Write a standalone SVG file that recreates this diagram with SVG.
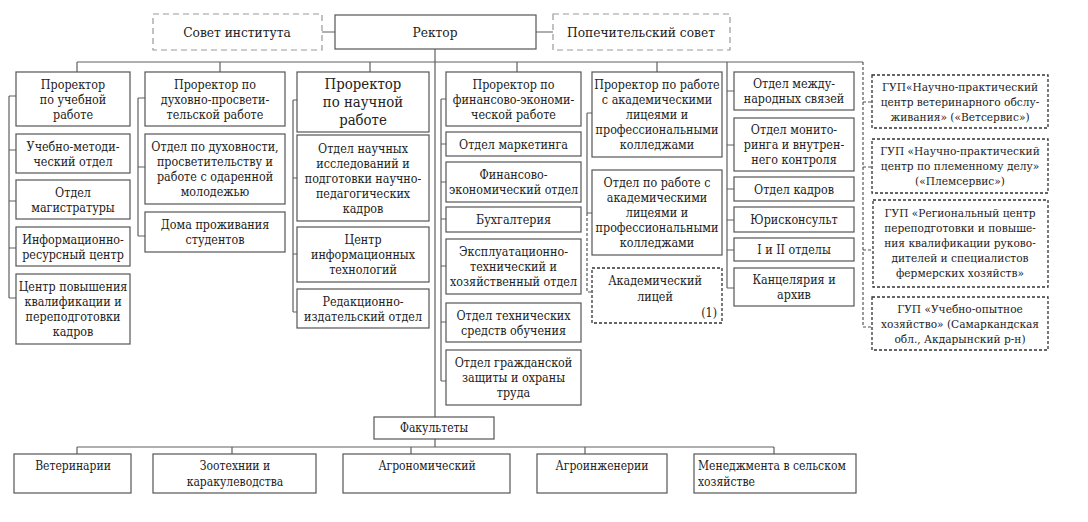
<svg xmlns="http://www.w3.org/2000/svg" width="1088" height="522" viewBox="0 0 1088 522">
<style>
.b{fill:#fff;stroke:#555;stroke-width:1.2}
.dl{fill:#fff;stroke:#999;stroke-width:1.2;stroke-dasharray:6 4}
.dd{fill:#fff;stroke:#333;stroke-width:1.3;stroke-dasharray:3 2}
.c{fill:none;stroke:#606060;stroke-width:1.2}
.cd{fill:none;stroke:#555;stroke-width:1.2;stroke-dasharray:3 2}
text{font-family:'DejaVu Serif Condensed','DejaVu Serif',serif;font-stretch:condensed;fill:#222;font-size:12.4px;text-anchor:middle}
.h{font-size:13.6px}
.big{font-size:14.8px}
.s{font-size:11.8px}
.f{font-size:12px}
</style>
<rect width="1088" height="522" fill="#fff"/>
<g id="connectors">
<path class="c" d="M322 32H335M536 32H553M435 49V417M435 439V447"/>
<path class="c" d="M77 62H863M77 62V72M220 62V72M370 62V72M517 62V72M657 62V72M727 62V288"/>
<path class="c" d="M9 96V298M9 96H16M9 150H16M9 201H16M9 248H16M9 298H16"/>
<path class="c" d="M138 98V236M138 98H145M138 167H145M138 236H145"/>
<path class="c" d="M293 100V312M293 100H297M293 178H297M293 254H297M293 312H297"/>
<path class="c" d="M441 99V381M441 99H446M441 144H446M441 182H446M441 219H446M441 266H446M441 322H446M441 381H446"/>
<path class="c" d="M587 113V213M587 113H592M587 213H592"/>
<path class="cd" d="M587 213V292H592"/>
<path class="c" d="M727 91H734M727 145H734M727 189H734M727 220H734M727 250H734M727 288H734"/>
<path class="cd" d="M863 62V327M863 102H872M863 167H872M863 250H872M863 327H872"/>
<path class="c" d="M77 447H774M77 447V454M232 447V454M411 447V454M585 447V454M774 447V454"/>
</g>
<g id="sovet"><rect class="dl" x="153" y="14" width="169" height="36"/><text class="h" x="237" y="37">Совет института</text></g>
<g id="rektor"><rect class="b" x="335" y="15" width="201" height="34"/><text class="h" x="435" y="37">Ректор</text></g>
<g id="popech"><rect class="dl" x="553" y="14" width="177" height="36"/><text class="h" x="641" y="37">Попечительский совет</text></g>

<g id="c1a"><rect class="b" x="16" y="72" width="114" height="54"/><text x="73" y="88.5">Проректор</text><text x="73" y="103.5">по учебной</text><text x="73" y="118.5">работе</text></g>
<g id="c1b"><rect class="b" x="16" y="134" width="114" height="39"/><text x="73" y="150.5">Учебно-методи-</text><text x="73" y="165.5">ческий отдел</text></g>
<g id="c1c"><rect class="b" x="16" y="180" width="114" height="39"/><text x="73" y="196.5">Отдел</text><text x="73" y="211.5">магистратуры</text></g>
<g id="c1d"><rect class="b" x="16" y="227" width="114" height="39"/><text x="73" y="243.5">Информационно-</text><text x="73" y="258.5">ресурсный центр</text></g>
<g id="c1e"><rect class="b" x="16" y="274" width="114" height="70"/><text x="73" y="290.5">Центр повышения</text><text x="73" y="305.5">квалификации и</text><text x="73" y="320.5">переподготовки</text><text x="73" y="335.5">кадров</text></g>

<g id="c2a"><rect class="b" x="145" y="72" width="140" height="54"/><text x="215" y="88.5">Проректор по</text><text x="215" y="103.5">духовно-просвети-</text><text x="215" y="118.5">тельской работе</text></g>
<g id="c2b"><rect class="b" x="145" y="134" width="140" height="70"/><text x="215" y="150.5">Отдел по духовности,</text><text x="215" y="165.5">просветительству и</text><text x="215" y="180.5">работе с одаренной</text><text x="215" y="195.5">молодежью</text></g>
<g id="c2c"><rect class="b" x="145" y="212" width="140" height="40"/><text x="215" y="229">Дома проживания</text><text x="215" y="244">студентов</text></g>

<g id="c3a"><rect class="b" x="297" y="72" width="132" height="60"/><text class="big" x="363" y="89">Проректор</text><text class="big" x="363" y="107">по научной</text><text class="big" x="363" y="125">работе</text></g>
<g id="c3b"><rect class="b" x="297" y="135" width="132" height="86"/><text x="363" y="152.5">Отдел научных</text><text x="363" y="167.5">исследований и</text><text x="363" y="182.5">подготовки научно-</text><text x="363" y="197.5">педагогических</text><text x="363" y="212.5">кадров</text></g>
<g id="c3c"><rect class="b" x="297" y="227" width="132" height="55"/><text x="363" y="244">Центр</text><text x="363" y="259">информационных</text><text x="363" y="274">технологий</text></g>
<g id="c3d"><rect class="b" x="297" y="289" width="132" height="39"/><text x="363" y="305.5">Редакционно-</text><text x="363" y="320.5">издательский отдел</text></g>

<g id="c4a"><rect class="b" x="446" y="72" width="135" height="54"/><text x="513.5" y="88.5">Проректор по</text><text x="513.5" y="103.5">финансово-экономи-</text><text x="513.5" y="118.5">ческой работе</text></g>
<g id="c4b"><rect class="b" x="446" y="132" width="135" height="24"/><text x="513.5" y="148.5">Отдел маркетинга</text></g>
<g id="c4c"><rect class="b" x="446" y="162" width="135" height="40"/><text x="513.5" y="179">Финансово-</text><text x="513.5" y="194">экономический отдел</text></g>
<g id="c4d"><rect class="b" x="446" y="207" width="135" height="25"/><text x="513.5" y="224">Бухгалтерия</text></g>
<g id="c4e"><rect class="b" x="446" y="239" width="135" height="55"/><text x="513.5" y="256">Эксплуатационно-</text><text x="513.5" y="271">технический и</text><text x="513.5" y="286">хозяйственный отдел</text></g>
<g id="c4f"><rect class="b" x="446" y="303" width="135" height="39"/><text x="513.5" y="319.5">Отдел технических</text><text x="513.5" y="334.5">средств обучения</text></g>
<g id="c4g"><rect class="b" x="446" y="350" width="135" height="55"/><text x="513.5" y="367">Отдел гражданской</text><text x="513.5" y="382">защиты и охраны</text><text x="513.5" y="397">труда</text></g>

<g id="c5a"><rect class="b" x="592" y="72" width="130" height="85"/><text x="657" y="89">Проректор по работе</text><text x="657" y="104">с академическими</text><text x="657" y="119">лицеями и</text><text x="657" y="134">профессиональными</text><text x="657" y="149">колледжами</text></g>
<g id="c5b"><rect class="b" x="592" y="170" width="130" height="85"/><text x="657" y="187">Отдел по работе с</text><text x="657" y="202">академическими</text><text x="657" y="217">лицеями и</text><text x="657" y="232">профессиональными</text><text x="657" y="247">колледжами</text></g>
<g id="c5c"><rect class="dd" x="592" y="268" width="130" height="55"/><text x="655" y="285">Академический</text><text x="655" y="301">лицей</text><text x="717" y="317" style="text-anchor:end">(1)</text></g>

<g id="c6a"><rect class="b" x="734" y="72" width="120" height="38"/><text x="794" y="88">Отдел между-</text><text x="794" y="103">народных связей</text></g>
<g id="c6b"><rect class="b" x="734" y="118" width="120" height="53"/><text x="794" y="134">Отдел монито-</text><text x="794" y="149">ринга и внутрен-</text><text x="794" y="164">него контроля</text></g>
<g id="c6c"><rect class="b" x="734" y="177" width="120" height="24"/><text x="794" y="193.5">Отдел кадров</text></g>
<g id="c6d"><rect class="b" x="734" y="207" width="120" height="25"/><text x="794" y="224">Юрисконсульт</text></g>
<g id="c6e"><rect class="b" x="734" y="238" width="120" height="23"/><text x="794" y="254">I и II отделы</text></g>
<g id="c6f"><rect class="b" x="734" y="268" width="120" height="38"/><text x="794" y="284">Канцелярия и</text><text x="794" y="299">архив</text></g>

<g id="c7a"><rect class="dd" x="872" y="75" width="176" height="53"/><text class="s" x="960" y="90.5">ГУП«Научно-практический</text><text class="s" x="960" y="105.5">центр ветеринарного обслу-</text><text class="s" x="960" y="120.5">живания» («Ветсервис»)</text></g>
<g id="c7b"><rect class="dd" x="872" y="139" width="176" height="54"/><text class="s" x="960" y="155">ГУП «Научно-практический</text><text class="s" x="960" y="170">центр по племенному делу»</text><text class="s" x="960" y="185">(«Племсервис»)</text></g>
<g id="c7c"><rect class="dd" x="873" y="200" width="175" height="87"/><text class="s" x="960" y="216.5">ГУП «Региональный центр</text><text class="s" x="960" y="231.5">переподготовки и повыше-</text><text class="s" x="960" y="246.5">ния квалификации руково-</text><text class="s" x="960" y="261.5">дителей и специалистов</text><text class="s" x="960" y="276.5">фермерских хозяйств»</text></g>
<g id="c7d"><rect class="dd" x="872" y="297" width="176" height="53"/><text class="s" x="960" y="312.5">ГУП «Учебно-опытное</text><text class="s" x="960" y="327.5">хозяйство» (Самаркандская</text><text class="s" x="960" y="342.5">обл., Акдарынский р-н)</text></g>

<g id="fak"><rect class="b" x="374" y="417" width="120" height="22"/><text class="f" x="434" y="432">Факультеты</text></g>
<g id="f1"><rect class="b" x="14" y="454" width="117" height="39"/><text class="f" x="73" y="470">Ветеринарии</text></g>
<g id="f2"><rect class="b" x="153" y="454" width="163" height="39"/><text class="f" x="235" y="470">Зоотехнии и</text><text class="f" x="235" y="486">каракулеводства</text></g>
<g id="f3"><rect class="b" x="343" y="454" width="167" height="39"/><text class="f" x="427" y="470">Агрономический</text></g>
<g id="f4"><rect class="b" x="537" y="454" width="130" height="39"/><text class="f" x="602" y="470">Агроинженерии</text></g>
<g id="f5"><rect class="b" x="694" y="454" width="162" height="39"/><text class="f" x="698" y="470" style="text-anchor:start">Менеджмента в сельском</text><text class="f" x="698" y="486" style="text-anchor:start">хозяйстве</text></g>
</svg>
